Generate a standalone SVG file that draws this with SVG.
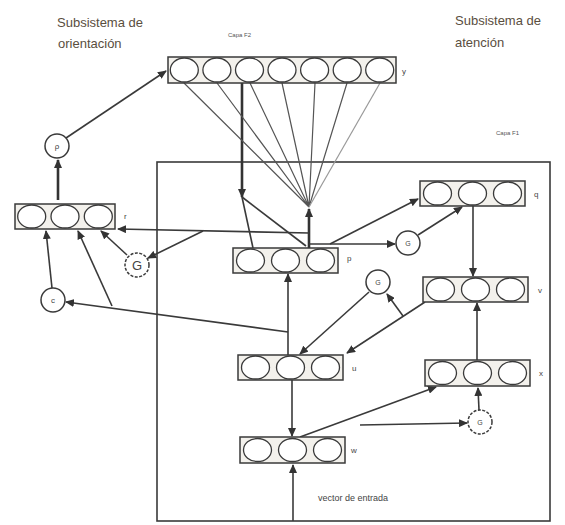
<svg xmlns="http://www.w3.org/2000/svg" width="565" height="525" viewBox="0 0 565 525">
<defs>
<marker id="ah" markerWidth="9" markerHeight="8" refX="8" refY="4" orient="auto" markerUnits="userSpaceOnUse"><path d="M0,0 L9,4 L0,8 z" fill="#333"/></marker>
</defs>
<style>
.ln{stroke:#3a3a3a;stroke-width:1.6;fill:none}
.thk{stroke:#333;stroke-width:2.6;fill:none}
.fan{stroke:#555;stroke-width:1.2;fill:none}
.box{fill:#f3f1ec;stroke:#3a3a3a;stroke-width:1.5}
.cell{fill:#fff;stroke:#3a3a3a;stroke-width:1.3}
.nd{fill:#fff;stroke:#3a3a3a;stroke-width:1.5}
.ttl{font-family:"Liberation Sans",Arial,sans-serif;font-size:13px;fill:#5a4e3e}
.sm{font-family:"Liberation Sans",Arial,sans-serif;font-size:6px;fill:#555}
.lb{font-family:"Liberation Sans",Arial,sans-serif;font-size:8px;fill:#444}
.cl{font-family:"Liberation Sans",Arial,sans-serif;font-size:8px;fill:#444;text-anchor:middle}
.frame{fill:none;stroke:#3a3a3a;stroke-width:1.6}
</style>
<rect x="0" y="0" width="565" height="525" fill="#ffffff"/>

<text class="ttl" x="57" y="27">Subsistema de</text>
<text class="ttl" x="58" y="48">orientación</text>
<text class="ttl" x="455" y="25">Subsistema de</text>
<text class="ttl" x="455" y="47">atención</text>
<text class="sm" x="228" y="37">Capa F2</text>
<text class="sm" x="496" y="135">Capa F1</text>

<rect class="frame" x="157" y="162" width="393" height="359"/>
<text class="lb" x="318" y="501" style="font-size:9px">vector de entrada</text>

<g id="connectors">
<path class="ln" d="M66,138 L166,71" marker-end="url(#ah)"/>
<path class="thk" d="M58,200 L58,160" marker-end="url(#ah)"/>
<path class="thk" d="M242,83 L242,197" marker-end="url(#ah)"/>
<path class="ln" d="M242,197 L253,248"/>
<path class="ln" d="M242,197 L306,246"/>
<path class="thk" d="M309,248 L309,209" marker-end="url(#ah)"/>
<path class="fan" d="M309,207 L184,83 M309,207 L217,83 M309,207 L250,83 M309,207 L282,83 M309,207 L315,83 M309,207 L347,83"/>
<path class="fan" d="M309,207 L380,83" style="stroke:#999"/>
<path class="ln" d="M309,233 L118,229" marker-end="url(#ah)"/>
<path class="ln" d="M203,231 L148,258" marker-end="url(#ah)"/>
<path class="ln" d="M127,255 L101,231" marker-end="url(#ah)"/>
<path class="ln" d="M288,355 L288,274" marker-end="url(#ah)"/>
<path class="ln" d="M288,332 L66,302" marker-end="url(#ah)"/>
<path class="ln" d="M112,306 L78,231" marker-end="url(#ah)"/>
<path class="ln" d="M52,288 L46,231" marker-end="url(#ah)"/>
<path class="ln" d="M292,380 L292,436" marker-end="url(#ah)"/>
<path class="ln" d="M293,521 L293,465" marker-end="url(#ah)"/>
<path class="ln" d="M300,437 L436,387" marker-end="url(#ah)"/>
<path class="ln" d="M360,425 L467,423" marker-end="url(#ah)"/>
<path class="ln" d="M479,410 L478,388" marker-end="url(#ah)"/>
<path class="ln" d="M477,360 L477,303" marker-end="url(#ah)"/>
<path class="ln" d="M473,206 L473,276" marker-end="url(#ah)"/>
<path class="ln" d="M425,302 L347,353" marker-end="url(#ah)"/>
<path class="ln" d="M403,316 L387,294" marker-end="url(#ah)"/>
<path class="ln" d="M369,292 L300,354" marker-end="url(#ah)"/>
<path class="ln" d="M330,244 L418,199" marker-end="url(#ah)"/>
<path class="ln" d="M309,244 L395,244" marker-end="url(#ah)"/>
<path class="ln" d="M418,235 L462,207" marker-end="url(#ah)"/>
</g>

<g id="F2">
<rect class="box" x="168" y="57" width="228" height="26"/>
<ellipse class="cell" cx="184.3" cy="70" rx="14" ry="12"/>
<ellipse class="cell" cx="216.9" cy="70" rx="14" ry="12"/>
<ellipse class="cell" cx="249.5" cy="70" rx="14" ry="12"/>
<ellipse class="cell" cx="282" cy="70" rx="14" ry="12"/>
<ellipse class="cell" cx="314.6" cy="70" rx="14" ry="12"/>
<ellipse class="cell" cx="347.2" cy="70" rx="14" ry="12"/>
<ellipse class="cell" cx="379.7" cy="70" rx="14" ry="12"/>
<text class="lb" x="402" y="74">y</text>
</g>

<g id="R">
<rect class="box" x="15" y="204" width="100" height="25"/>
<ellipse class="cell" cx="31.7" cy="216.5" rx="14" ry="11.5"/>
<ellipse class="cell" cx="65" cy="216.5" rx="14" ry="11.5"/>
<ellipse class="cell" cx="98.3" cy="216.5" rx="14" ry="11.5"/>
<text class="lb" x="124" y="219">r</text>
</g>

<g id="P">
<rect class="box" x="233" y="248" width="105" height="25"/>
<ellipse class="cell" cx="250.5" cy="260.5" rx="14" ry="11.5"/>
<ellipse class="cell" cx="285.5" cy="260.5" rx="14" ry="11.5"/>
<ellipse class="cell" cx="320.5" cy="260.5" rx="14" ry="11.5"/>
<text class="lb" x="347" y="261">p</text>
</g>

<g id="U">
<rect class="box" x="238" y="355" width="105" height="25"/>
<ellipse class="cell" cx="255.5" cy="367.5" rx="14" ry="11.5"/>
<ellipse class="cell" cx="290.5" cy="367.5" rx="14" ry="11.5"/>
<ellipse class="cell" cx="325.5" cy="367.5" rx="14" ry="11.5"/>
<text class="lb" x="352" y="371">u</text>
</g>

<g id="W">
<rect class="box" x="240" y="437" width="105" height="26"/>
<ellipse class="cell" cx="257.5" cy="450" rx="14" ry="11.5"/>
<ellipse class="cell" cx="292.5" cy="450" rx="14" ry="11.5"/>
<ellipse class="cell" cx="327.5" cy="450" rx="14" ry="11.5"/>
<text class="lb" x="351" y="453">w</text>
</g>

<g id="Q">
<rect class="box" x="420" y="181" width="105" height="25"/>
<ellipse class="cell" cx="437.5" cy="193.5" rx="14" ry="11.5"/>
<ellipse class="cell" cx="472.5" cy="193.5" rx="14" ry="11.5"/>
<ellipse class="cell" cx="507.5" cy="193.5" rx="14" ry="11.5"/>
<text class="lb" x="534" y="197">q</text>
</g>

<g id="V">
<rect class="box" x="423" y="277" width="105" height="25"/>
<ellipse class="cell" cx="440.5" cy="289.5" rx="14" ry="11.5"/>
<ellipse class="cell" cx="475.5" cy="289.5" rx="14" ry="11.5"/>
<ellipse class="cell" cx="510.5" cy="289.5" rx="14" ry="11.5"/>
<text class="lb" x="538" y="293">v</text>
</g>

<g id="X">
<rect class="box" x="425" y="360" width="105" height="26"/>
<ellipse class="cell" cx="442.5" cy="373" rx="14" ry="11.5"/>
<ellipse class="cell" cx="477.5" cy="373" rx="14" ry="11.5"/>
<ellipse class="cell" cx="512.5" cy="373" rx="14" ry="11.5"/>
<text class="lb" x="539" y="376">x</text>
</g>

<g id="rho"><circle class="nd" cx="57" cy="146" r="12"/><text class="cl" x="57" y="149">ρ</text></g>
<g id="G1"><circle class="nd" cx="137" cy="265" r="12" style="stroke-dasharray:3 1.5"/><text class="cl" x="137" y="270" style="font-size:13px">G</text></g>
<g id="C"><circle class="nd" cx="53" cy="300" r="12"/><text class="cl" x="53" y="303">c</text></g>
<g id="G2"><circle class="nd" cx="408" cy="243" r="12"/><text class="cl" x="408" y="246" style="font-size:7px">G</text></g>
<g id="N"><circle class="nd" cx="378" cy="282" r="12"/><text class="cl" x="378" y="285" style="font-size:7px">G</text></g>
<g id="G3"><circle class="nd" cx="480" cy="422" r="12" style="stroke-dasharray:3 1.5"/><text class="cl" x="480" y="425" style="font-size:7px">G</text></g>
</svg>
